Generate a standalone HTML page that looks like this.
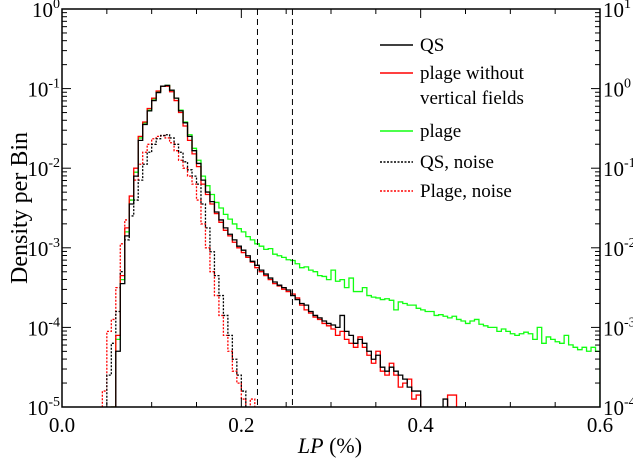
<!DOCTYPE html>
<html><head><meta charset="utf-8"><style>
body{margin:0;background:#fff}
svg{display:block}
svg text{font-family:"Liberation Serif","Times New Roman","DejaVu Serif",serif}
</style></head><body>
<svg id="chart" width="633" height="460" viewBox="0 0 633 460" xmlns="http://www.w3.org/2000/svg">
<defs><clipPath id="clip"><rect x="62" y="9" width="538" height="398.5"/></clipPath></defs>
<g id="series" clip-path="url(#clip)"></g>
<g id="axes"></g>
</svg>
<script>
// bin starts (LP %) and log10 density values
const binWidth = 0.005;
const qsStart = 0.055;
const qsLog = [-6,-4.3,-3.45,-2.85,-2.45,-2.1,-1.65,-1.45,-1.28,-1.15,-1.05,-0.97,-0.96,-1.02,-1.12,-1.28,-1.43,-1.6,-1.78,-1.94,-2.15,-2.3,-2.42,-2.55,-2.65,-2.75,-2.83,-2.9,-2.98,-3.03,-3.1,-3.17,-3.22,-3.28,-3.33,-3.38,-3.43,-3.47,-3.5,-3.53,-3.6,-3.65,-3.7,-3.72,-3.8,-3.85,-3.88,-3.92,-3.95,-3.97,-4.0,-3.85,-4.05,-4.1,-4.2,-4.15,-4.2,-4.3,-4.4,-4.35,-4.5,-4.55,-4.5,-4.55,-4.6,-4.65,-4.75,-4.8,-4.8,-6,-6,-6,-6,-6,-4.9,-6];
const plageNoVStart = 0.055;
const plageNoVLog = [-5,-4.1,-3.35,-2.75,-2.35,-2.0,-1.6,-1.42,-1.25,-1.12,-1.03,-0.97,-0.97,-1.04,-1.15,-1.3,-1.47,-1.65,-1.82,-1.98,-2.2,-2.33,-2.45,-2.57,-2.68,-2.78,-2.85,-2.93,-3.0,-3.06,-3.12,-3.18,-3.25,-3.3,-3.35,-3.4,-3.45,-3.48,-3.52,-3.55,-3.58,-3.63,-3.72,-3.78,-3.82,-3.87,-3.9,-3.95,-3.98,-4.02,-4.1,-4.05,-4.15,-4.2,-4.25,-4.12,-4.25,-4.35,-4.45,-4.3,-4.55,-4.6,-4.45,-4.6,-4.75,-4.7,-4.65,-4.9,-4.85,-6,-6,-6,-6,-6,-6,-4.85,-4.85,-6];
const plageStart = 0.055;
const plageLog = [-5,-4.15,-3.4,-2.8,-2.4,-2.05,-1.62,-1.43,-1.27,-1.13,-1.04,-0.97,-0.96,-1.02,-1.12,-1.27,-1.42,-1.58,-1.75,-1.9,-2.1,-2.22,-2.33,-2.43,-2.5,-2.58,-2.64,-2.7,-2.76,-2.8,-2.86,-2.9,-2.95,-2.98,-3.02,-3.01,-3.08,-3.1,-3.12,-3.15,-3.16,-3.2,-3.25,-3.24,-3.28,-3.3,-3.35,-3.36,-3.4,-3.28,-3.42,-3.4,-3.5,-3.38,-3.55,-3.55,-3.5,-3.6,-3.62,-3.63,-3.65,-3.64,-3.66,-3.78,-3.68,-3.7,-3.72,-3.72,-3.76,-3.78,-3.8,-3.8,-3.85,-3.84,-3.86,-3.88,-3.86,-3.9,-3.92,-3.95,-3.92,-3.9,-3.96,-3.98,-4.0,-4.0,-4.05,-4.02,-4.05,-4.08,-4.1,-4.08,-4.06,-4.08,-4.15,-4.0,-4.2,-4.12,-4.15,-4.18,-4.2,-4.1,-4.22,-4.25,-4.28,-4.25,-4.3,-4.25,-4.3];
const qsNoiseStart = 0.045;
const qsNoiseLog = [-6,-4.6,-4.2,-3.8,-3.3,-2.9,-2.6,-2.4,-2.15,-1.95,-1.8,-1.7,-1.63,-1.59,-1.58,-1.62,-1.7,-1.8,-1.92,-2.02,-2.1,-2.2,-2.45,-2.75,-3.05,-3.35,-3.6,-3.85,-4.1,-4.4,-4.6,-4.8,-6];
const plageNoiseStart = 0.045;
const plageNoiseLog = [-4.8,-4.05,-3.9,-3.5,-2.95,-2.65,-2.4,-2.15,-1.95,-1.8,-1.7,-1.63,-1.6,-1.59,-1.62,-1.68,-1.78,-1.9,-2.0,-2.1,-2.2,-2.4,-2.7,-3.0,-3.3,-3.6,-3.85,-4.1,-4.3,-4.55,-4.7,-4.9,-6,-4.9,-6];
const xTickLabels = ["0.0","0.2","0.4","0.6"];
const xTickValues = [0,0.2,0.4,0.6];
const leftDecades = [0,-1,-2,-3,-4,-5];
const rightDecades = [1,0,-1,-2,-3,-4];
const dashedLines = [0.218,0.257];

const X0=62,X1=600,Y0=407,Y1=9;
const xs = v => X0 + (v/0.6)*(X1-X0);
const ys = l => Y0 - (Math.max(l,-5.2)+5)/5*(Y0-Y1);
const NS="http://www.w3.org/2000/svg";
const gS=document.getElementById('series'), gA=document.getElementById('axes');
function mk(tag,attrs,parent){const e=document.createElementNS(NS,tag);for(const k in attrs)e.setAttribute(k,attrs[k]);parent.appendChild(e);return e;}

function stepPath(start,vals){
  let d="";
  vals.forEach((v,i)=>{const a=xs(start+i*binWidth),b=xs(start+(i+1)*binWidth),y=ys(v);
    d+=(i===0?`M${X0},${ys(-6)}L${a},${ys(-6)}L`:"L")+`${a},${y}L${b},${y}`;});
  d+=`L${X1},${ys(-6)}`;
  return d;
}
function series(start,vals,color,dash,name){
  const p=mk('path',{d:stepPath(start,vals),fill:"none",stroke:color,"stroke-width":1.3,"stroke-dasharray":dash||"none"},gS);
  
  
}
series(plageNoiseStart,plageNoiseLog,"#f00","2,1.5","plage-noise-series");
series(qsNoiseStart,qsNoiseLog,"#000","2,1.5","qs-noise-series");
series(plageStart,plageLog,"#1f1","", "plage-series");
series(plageNoVStart,plageNoVLog,"#f00","", "plage-no-vertical-series");
series(qsStart,qsLog,"#000","", "qs-series");

dashedLines.forEach((v,i)=>{
  const l=mk('line',{x1:xs(v),x2:xs(v),y1:Y1,y2:Y0,stroke:"#000","stroke-width":1,"stroke-dasharray":"6,4"},gA);
  
  
});

const frame=mk('rect',{x:X0,y:Y1,width:X1-X0,height:Y0-Y1,fill:"none",stroke:"#000","stroke-width":1.5},gA);



for(let k=0;k<=12;k++){const v=k*0.05,x=xs(v),len=(k%4===0)?9:5;
  mk('line',{x1:x,x2:x,y1:Y0,y2:Y0-len,stroke:"#000"},gA);
  mk('line',{x1:x,x2:x,y1:Y1,y2:Y1+len,stroke:"#000"},gA);}
xTickValues.forEach((v,i)=>{const t=mk('text',{x:xs(v),y:432,"font-size":21,"text-anchor":"middle"},gA);t.textContent=xTickLabels[i];
  
  });

for(let d=-5;d<0;d++){for(let m=1;m<10;m++){const l=d+Math.log10(m),y=ys(l),len=m===1?9:5;
  mk('line',{x1:X0,x2:X0+len,y1:y,y2:y,stroke:"#000"},gA);
  mk('line',{x1:X1,x2:X1-len,y1:y,y2:y,stroke:"#000"},gA);}}
function decLabel(x,y,exp,anchor,name){
  const t=mk('text',{x:x,y:y,"font-size":21,"text-anchor":anchor},gA);
  t.innerHTML=`10<tspan dy="-9" font-size="14">${exp}</tspan>`;
  
  
}
leftDecades.forEach(d=>decLabel(60,ys(d)+8,d,"end","y-tick-label-left"));
rightDecades.forEach((d,i)=>decLabel(603,ys(-i)+8,d,"start","y-tick-label-right"));

const yt=mk('text',{x:0,y:0,"font-size":24,"text-anchor":"middle",transform:"translate(27,208) rotate(-90)"},gA);
yt.textContent="Density per Bin";


const xt=mk('text',{x:330,y:453,"font-size":22,"text-anchor":"middle"},gA);
xt.innerHTML='<tspan font-style="italic">LP</tspan> (%)';



const legend=[["QS","#000","",45],["plage without","#f00","",73],["plage","#1f1","",131],["QS, noise","#000","2,1.5",162],["Plage, noise","#f00","2,1.5",191]];
legend.forEach(([lab,c,dash,y])=>{
  const g=mk('g',{},gA);
  
  
  mk('line',{x1:380,x2:413,y1:y,y2:y,stroke:c,"stroke-width":1.5,"stroke-dasharray":dash||"none"},g);
  const t=mk('text',{x:420,y:y+6,"font-size":19},g);t.textContent=lab;
});
const t2=mk('text',{x:420,y:104,"font-size":19},gA);t2.textContent="vertical fields";


</script>
</body></html>
